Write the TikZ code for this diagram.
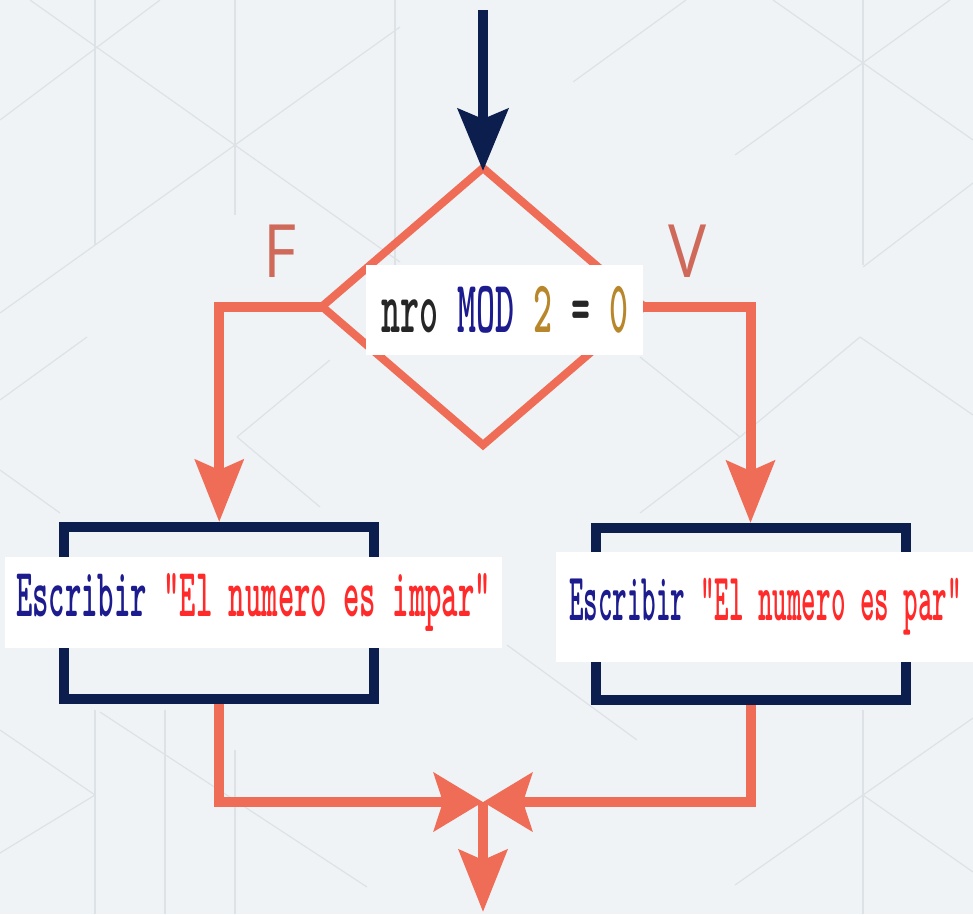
\documentclass[tikz,border=0pt]{standalone}
\usepackage{fontspec}
\usepackage{graphicx}
\newfontfamily\labelfont{Open Sans}
\usetikzlibrary{shapes.geometric,arrows.meta}

\definecolor{fondo}{HTML}{EFF3F6}
\definecolor{trama}{HTML}{DDE2E6}
\definecolor{salmon}{HTML}{EF6C56}
\definecolor{marino}{HTML}{0B1E4E}
\definecolor{etiq}{HTML}{CF6A5B}
\definecolor{kwazul}{HTML}{1C1C8E}
\definecolor{numoro}{HTML}{B8862B}
\definecolor{cadena}{HTML}{FF2A2A}

\tikzset{
  decision/.style={diamond,draw=salmon,line width=8pt,inner sep=0pt,outer sep=0pt,
    minimum width=322pt,minimum height=277pt},
  salida/.style={draw=marino,line width=10pt,inner sep=0pt,
    minimum width=310pt,minimum height=172pt},
  codigo/.style={fill=white,inner sep=0pt,text=black!85,font=\ttfamily\bfseries},
  rama/.style={text=etiq,inner sep=0pt,font=\labelfont\fontsize{64}{64}\selectfont},
  flujo/.style={salmon,line width=10pt,
    -{Stealth[length=62pt,width=48pt,inset=10pt]}},
  cruce/.style={salmon,line width=10pt,
    -{Stealth[length=49pt,width=58pt,inset=9pt]}},
  entrada/.style={marino,line width=10pt,
    -{Stealth[length=62pt,width=50pt,inset=10pt]}}
}

\begin{document}
\begin{tikzpicture}[x=1pt,y=-1pt,line join=miter]
  % lienzo
  \useasboundingbox[fill=fondo] (0,0) rectangle (973,914);
  % trama del fondo
  \foreach \xa/\ya/\xb/\yb in {95/0/95/245, 235/0/235/215, 395/0/395/300,
      30/0/400/262, 0/120/160/0, 0/313/400/27, 863/0/863/265,
      773/0/973/140, 735/155/950/0, 573/82/686/0, 863/267/973/183,
      640/357/740/437, 740/437/860/337, 860/337/973/415, 640/513/740/437,
      95/710/95/914, 165/710/165/914, 235/750/235/914, 0/730/95/795,
      95/795/0/853, 100/712/367/887, 507/645/637/740, 863/710/863/914,
      863/795/973/718, 863/795/973/872, 863/795/735/885,
      0/400/87/337, 0/470/60/513, 237/437/330/360, 237/437/320/507}
    \draw[trama,line width=1.2pt] (\xa,\ya) -- (\xb,\yb);

  % figuras
  \node[decision] (dec) at (483,306.5) {};
  \node[salida] (impar) at (219.25,613) {};
  \node[salida] (par) at (750.5,614) {};
  \coordinate (ini) at (483,10);
  \coordinate (union) at (483,802);
  \coordinate (fin) at (483,912);

  % conectores
  \draw[entrada] (ini) -- ([yshift=-3pt]dec.north);
  \draw[flujo] (dec.west) -| (impar.north);
  \draw[flujo] (dec.east) -| (par.north);
  \draw[cruce] (impar.south) |- (union);
  \draw[cruce] (par.south) |- (union);
  \draw[flujo] (union) -- (fin);

  % rotulos
  \node[rama] (lblF) at (280,251) {\scalebox{1}[1.15]{F}};
  \node[rama] (lblV) at (688,251) {\scalebox{1}[1.15]{V}};
  \node[codigo,minimum width=277pt,minimum height=90pt] (cond) at (504.5,310)
    {\resizebox*{247pt}{47pt}{nro {\color{kwazul}MOD} {\color{numoro}2} = {\color{numoro}0}}};
  \node[codigo,minimum width=497pt,minimum height=91pt] (txtImpar) at (253.5,602.5)
    {\resizebox*{475pt}{58pt}{{\color{kwazul}Escribir} {\color{cadena}"El numero es impar"}}};
  \node[codigo,minimum width=419pt,minimum height=110pt] (txtPar) at (765.5,607)
    {\resizebox*{393pt}{57pt}{{\color{kwazul}Escribir} {\color{cadena}"El numero es par"}}};
\end{tikzpicture}
\end{document}
